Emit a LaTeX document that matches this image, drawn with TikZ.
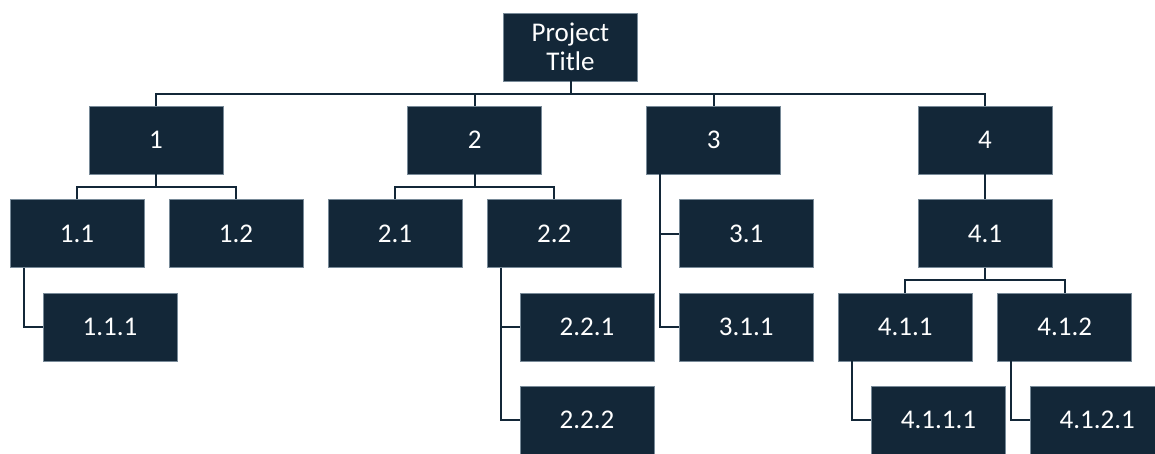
\documentclass[tikz,border=0pt]{standalone}
\usepackage{fontspec}
\setmainfont{Carlito}
\usepackage{xcolor}
\usetikzlibrary{positioning,calc}
\definecolor{wbsnavy}{RGB}{19,39,56}
\definecolor{wbsedge}{RGB}{120,138,152}

\begin{document}
\begin{tikzpicture}[x=1pt, y=1pt]
        \tikzstyle{wbs} = [rectangle, draw=wbsedge, line width=0.6pt, fill=wbsnavy, text=white, minimum width=134pt, minimum height=68pt, inner sep=0pt, align=center, font=\fontsize{27}{29}\selectfont]
        \tikzstyle{link} = [draw=wbsnavy, line width=2pt]

        \useasboundingbox (0,0) rectangle (1155,453);

        % Top
        \node [wbs] (title) at (570.5,406) {Project\\Title};

        % Level 1
        \node [wbs] (n1) at (156,313) {1};
        \node [wbs] (n2) at (474.7,313) {2};
        \node [wbs] (n3) at (713.7,313) {3};
        \node [wbs] (n4) at (985,313) {4};

        % Level 2
        \node [wbs] (n11) at (77,219.5) {1.1};
        \node [wbs] (n12) at (236,219.5) {1.2};
        \node [wbs] (n21) at (395,219.5) {2.1};
        \node [wbs] (n22) at (554.3,219.5) {2.2};
        \node [wbs] (n31) at (746.3,219.5) {3.1};
        \node [wbs] (n41) at (985,219.5) {4.1};

        % Level 3
        \node [wbs] (n111) at (110,126) {1.1.1};
        \node [wbs] (n221) at (587,126) {2.2.1};
        \node [wbs] (n311) at (746.3,126) {3.1.1};
        \node [wbs] (n411) at (905.3,126) {4.1.1};
        \node [wbs] (n412) at (1064.7,126) {4.1.2};

        % Level 4
        \node [wbs] (n222) at (587,33) {2.2.2};
        \node [wbs] (n4111) at (938.5,33) {4.1.1.1};
        \node [wbs] (n4121) at (1097.3,33) {4.1.2.1};

        % Buses down from a parent
        \foreach \c in {n1,n2,n3,n4}
            \path [link] (title.south) -- ++(0,-12.5) -| (\c.north);
        \foreach \c in {n11,n12}
            \path [link] (n1.south) -- ++(0,-12.5) -| (\c.north);
        \foreach \c in {n21,n22}
            \path [link] (n2.south) -- ++(0,-12.5) -| (\c.north);
        \foreach \c in {n411,n412}
            \path [link] (n41.south) -- ++(0,-12.5) -| (\c.north);
        \path [link] (n4) -- (n41);

        % Side connectors
        \path [link] (n11.south west) ++(14,0) |- (n111.west);
        \foreach \c in {n221,n222}
            \path [link] (n22.south west) ++(14,0) |- (\c.west);
        \foreach \c in {n31,n311}
            \path [link] (n3.south west) ++(14,0) |- (\c.west);
        \path [link] (n411.south west) ++(14,0) |- (n4111.west);
        \path [link] (n412.south west) ++(14,0) |- (n4121.west);
    \end{tikzpicture}
\end{document}
